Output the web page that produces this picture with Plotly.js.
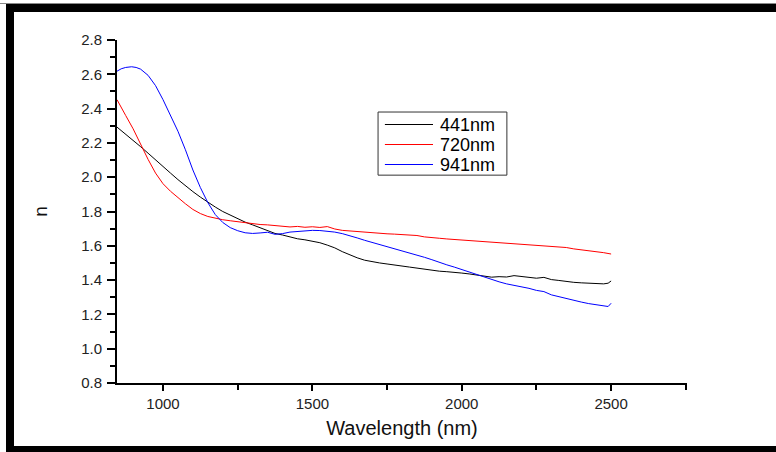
<!DOCTYPE html>
<html>
<head>
<meta charset="utf-8">
<script src="https://cdn.plot.ly/plotly-3.0.1.min.js"></script>
<style>
  html, body { margin: 0; padding: 0; background: #fff; }
  #wrap { position: relative; width: 776px; height: 452px; overflow: hidden; }
  #chart { position: absolute; left: 0; top: 0; width: 776px; height: 452px; }
  .bar { position: absolute; background: #000; z-index: 5; }
</style>
</head>
<body>
<div id="wrap">
  <div id="chart"></div>
  <div class="bar" style="left:0;top:3px;width:776px;height:1px;background:#888;"></div>
  <div class="bar" style="left:6px;top:4px;width:770px;height:8px;"></div>
  <div class="bar" style="left:6px;top:4px;width:8px;height:448px;"></div>
  <div class="bar" style="left:6px;top:446px;width:770px;height:6px;"></div>
</div>
<script>
const seriesNames = ["441nm", "720nm", "941nm"];

const wl441 = [846,875,900,925,950,975,1000,1025,1050,1075,1100,1125,1150,1175,1200,1225,1250,1275,1300,1325,1350,1375,1400,1425,1450,1475,1500,1525,1550,1575,1600,1625,1650,1675,1700,1725,1750,1775,1800,1825,1850,1875,1900,1925,1950,1975,2000,2025,2050,2075,2100,2125,2150,2175,2200,2225,2250,2275,2300,2325,2350,2375,2400,2425,2450,2475,2490,2500];
const n441 = [2.292,2.252,2.215,2.178,2.140,2.100,2.062,2.024,1.986,1.950,1.916,1.884,1.853,1.826,1.800,1.778,1.758,1.738,1.722,1.705,1.690,1.672,1.663,1.652,1.641,1.635,1.626,1.618,1.604,1.588,1.566,1.546,1.530,1.516,1.506,1.500,1.494,1.490,1.482,1.476,1.470,1.462,1.456,1.452,1.449,1.443,1.441,1.436,1.431,1.424,1.417,1.420,1.418,1.426,1.422,1.414,1.411,1.416,1.403,1.398,1.391,1.387,1.384,1.382,1.380,1.378,1.382,1.395];

const wl720 = [846,860,875,900,925,950,975,1000,1025,1050,1075,1100,1125,1150,1175,1200,1225,1250,1275,1300,1325,1350,1375,1400,1425,1450,1475,1500,1525,1550,1575,1600,1625,1650,1675,1700,1725,1750,1775,1800,1825,1850,1875,1900,1925,1950,1975,2000,2025,2050,2075,2100,2125,2150,2175,2200,2225,2250,2275,2300,2325,2350,2375,2400,2425,2450,2475,2500];
const n720 = [2.452,2.405,2.360,2.282,2.192,2.104,2.024,1.962,1.918,1.880,1.845,1.812,1.788,1.771,1.760,1.752,1.746,1.740,1.735,1.729,1.724,1.722,1.719,1.716,1.710,1.713,1.708,1.711,1.707,1.712,1.698,1.690,1.686,1.684,1.679,1.675,1.673,1.670,1.668,1.666,1.663,1.660,1.652,1.646,1.644,1.640,1.637,1.635,1.631,1.628,1.626,1.622,1.619,1.617,1.613,1.610,1.607,1.605,1.602,1.598,1.594,1.590,1.582,1.577,1.572,1.566,1.560,1.552];

const wl941 = [846,860,875,895,910,925,950,975,1000,1025,1050,1075,1100,1125,1150,1175,1200,1225,1250,1275,1300,1325,1350,1375,1400,1425,1450,1475,1500,1525,1550,1575,1600,1625,1650,1675,1700,1725,1750,1775,1800,1825,1850,1875,1900,1925,1950,1975,2000,2025,2050,2075,2100,2125,2150,2175,2200,2225,2250,2275,2300,2325,2350,2375,2400,2425,2450,2475,2490,2500];
const n941 = [2.618,2.632,2.640,2.644,2.640,2.630,2.594,2.534,2.452,2.362,2.268,2.160,2.042,1.940,1.852,1.782,1.736,1.706,1.688,1.676,1.672,1.675,1.679,1.667,1.671,1.680,1.684,1.687,1.690,1.689,1.686,1.680,1.671,1.660,1.646,1.632,1.620,1.607,1.596,1.585,1.573,1.558,1.547,1.533,1.519,1.503,1.489,1.476,1.461,1.446,1.432,1.416,1.401,1.390,1.378,1.370,1.360,1.352,1.340,1.333,1.314,1.303,1.291,1.282,1.272,1.263,1.255,1.248,1.246,1.265];

const xTickVals = [1000, 1500, 2000, 2500];
const yTickVals = [0.8, 1.0, 1.2, 1.4, 1.6, 1.8, 2.0, 2.2, 2.4, 2.6, 2.8];
const yTickText = ["0.8","1.0","1.2","1.4","1.6","1.8","2.0","2.2","2.4","2.6","2.8"];

const colors = ["#000000", "#ff0000", "#0000ff"];
const xs = [wl441, wl720, wl941];
const ys = [n441, n720, n941];

const traces = seriesNames.map((nm, i) => ({
  x: xs[i], y: ys[i], name: nm, type: "scatter", mode: "lines",
  line: { color: colors[i], width: 1 }
}));

const font = "Arial, 'Liberation Sans', sans-serif";

// legend box (paper coordinates of the plot area)
const legX0 = 0.458, legX1 = 0.684, legY0 = 0.606, legY1 = 0.790;
const legRows = [0.7536, 0.6953, 0.6370];
const shapes = [{
  type: "rect", xref: "paper", yref: "paper",
  x0: legX0, x1: legX1, y0: legY0, y1: legY1,
  line: { color: "#333", width: 1 }, fillcolor: "#ffffff", layer: "above"
}];
const annotations = [];
seriesNames.forEach((nm, i) => {
  shapes.push({
    type: "line", xref: "paper", yref: "paper",
    x0: 0.470, x1: 0.5544, y0: legRows[i], y1: legRows[i],
    line: { color: colors[i], width: 1 }, layer: "above"
  });
  annotations.push({
    xref: "paper", yref: "paper", x: 0.5632, y: legRows[i],
    xanchor: "left", yanchor: "middle", showarrow: false,
    text: nm, font: { family: font, size: 18, color: "#000" }
  });
});

const layout = {
  width: 776, height: 452,
  margin: { l: 117, r: 89, t: 40, b: 69, pad: 0 },
  paper_bgcolor: "#ffffff", plot_bgcolor: "#ffffff",
  showlegend: false,
  shapes: shapes,
  annotations: annotations,
  xaxis: {
    range: [846, 2754], showgrid: false, zeroline: false,
    showline: true, linecolor: "#000", linewidth: 2,
    ticks: "outside", ticklen: 6, tickwidth: 2, tickcolor: "#000",
    tickvals: xTickVals, ticktext: xTickVals.map(String),
    tickfont: { family: font, size: 15, color: "#222" },
    minor: { dtick: 250, tick0: 0, ticks: "outside", ticklen: 5, tickwidth: 2, tickcolor: "#000", showgrid: false },
    title: { text: "Wavelength (nm)", font: { family: font, size: 20, color: "#111" }, standoff: 10 }
  },
  yaxis: {
    range: [0.8, 2.8], showgrid: false, zeroline: false,
    showline: true, linecolor: "#000", linewidth: 2,
    ticks: "outside", ticklen: 8, tickwidth: 2, tickcolor: "#000",
    tickvals: yTickVals, ticktext: yTickText,
    tickfont: { family: font, size: 15, color: "#222" },
    ticklabelstandoff: 2,
    minor: { dtick: 0.1, tick0: 0, ticks: "outside", ticklen: 5, tickwidth: 2, tickcolor: "#000", showgrid: false },
    title: { text: "n", font: { family: font, size: 19, color: "#111" }, standoff: 28 }
  }
};

Plotly.newPlot("chart", traces, layout, { displayModeBar: false, staticPlot: true });
</script>
</body>
</html>
